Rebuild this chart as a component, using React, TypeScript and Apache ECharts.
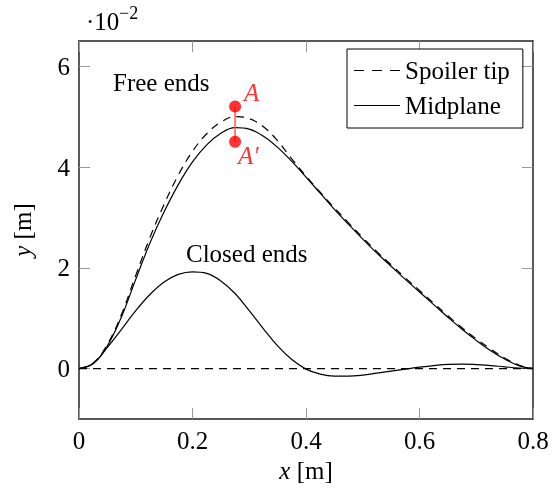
import React, { useEffect, useRef } from "react";
import * as echarts from "echarts";

const xs = [0, 0.025, 0.05, 0.075, 0.1, 0.125, 0.15, 0.175, 0.2, 0.225, 0.25, 0.275, 0.3, 0.325, 0.35, 0.375, 0.4, 0.425, 0.45, 0.475, 0.5, 0.525, 0.55, 0.575, 0.6, 0.625, 0.65, 0.675, 0.7, 0.725, 0.75, 0.775, 0.8];
const freeMid = [0, 0.1, 0.45, 1.03, 1.77, 2.49, 3.11, 3.65, 4.1, 4.44, 4.67, 4.78, 4.75, 4.61, 4.39, 4.11, 3.8, 3.48, 3.16, 2.86, 2.57, 2.29, 2.03, 1.77, 1.52, 1.27, 1.02, 0.78, 0.56, 0.36, 0.19, 0.06, 0];
const freeTip = [0, 0.11, 0.48, 1.08, 1.85, 2.6, 3.26, 3.84, 4.31, 4.66, 4.89, 5.0, 4.96, 4.8, 4.52, 4.16, 3.82, 3.5, 3.19, 2.89, 2.6, 2.32, 2.06, 1.8, 1.55, 1.3, 1.05, 0.81, 0.59, 0.39, 0.21, 0.07, 0];
const closedMid = [0, 0.1, 0.42, 0.78, 1.15, 1.47, 1.72, 1.87, 1.92, 1.89, 1.74, 1.49, 1.15, 0.79, 0.45, 0.18, -0.01, -0.11, -0.15, -0.15, -0.13, -0.09, -0.05, -0.01, 0.03, 0.06, 0.085, 0.09, 0.08, 0.06, 0.035, 0.012, 0];
const closedTipX = [0, 0.8];
const closedTip = [0, 0];
const pointA = [0.275, 5.2];
const pointA2 = [0.275, 4.5];
const xTicks = [0, 0.2, 0.4, 0.6, 0.8];
const yTicks = [0, 2, 4, 6];

const FONT = "Liberation Serif";

const pair = (x: number[], y: number[]) => x.map((v, i) => [v, y[i]]);

const mkTick = (vals: number[]) => ({ show: true, inside: true, length: 11, customValues: vals.slice(), lineStyle: { color: "#999", width: 1 } });
const mkLine = () => ({ show: true, onZero: false, lineStyle: { color: "#222", width: 1.5 } });
const mkName = () => ({
  fontFamily: FONT, fontSize: 25, color: "#000",
  rich: { i: { fontFamily: FONT, fontSize: 25, fontStyle: "italic", color: "#000" } },
});

const dashIcon = "path://M0,0h10v1.2h-10z M18,0h10v1.2h-10z M36,0h10v1.2h-10z";
const solidIcon = "path://M0,0h46v1.2h-46z";

export default function App() {
  const ref = useRef<HTMLDivElement>(null);
  useEffect(() => {
    if (!ref.current) return;
    const chart = echarts.init(ref.current, undefined, { renderer: "svg" });
    const lineBase = () => ({ type: "line", smooth: 0.4, symbol: "none", showSymbol: false, silent: true, itemStyle: { color: "#000" } });
    chart.setOption({
      animation: false,
      grid: { left: 79, right: 21, top: 41, bottom: 72 },
      xAxis: [
        {
          type: "value", min: 0, max: 0.8, position: "bottom",
          axisLine: mkLine(), splitLine: { show: false },
          axisTick: mkTick(xTicks),
          axisLabel: { fontFamily: FONT, fontSize: 25, color: "#000", margin: 9, customValues: xTicks.slice(), formatter: (v: number) => String(v) },
          name: "{i|x} [m]", nameLocation: "middle", nameGap: 36,
          nameTextStyle: mkName(),
        },
        {
          type: "value", min: 0, max: 0.8, position: "top",
          axisLine: mkLine(), splitLine: { show: false },
          axisTick: mkTick(xTicks),
          axisLabel: { show: false },
        },
      ],
      yAxis: [
        {
          type: "value", min: -1, max: 6.5, position: "left",
          axisLine: mkLine(), splitLine: { show: false },
          axisTick: mkTick(yTicks),
          axisLabel: { fontFamily: FONT, fontSize: 25, color: "#000", margin: 9, customValues: yTicks.slice(), formatter: (v: number) => String(v) },
          name: "{i|y} [m]", nameLocation: "middle", nameGap: 44, nameRotate: 90,
          nameTextStyle: mkName(),
        },
        {
          type: "value", min: -1, max: 6.5, position: "right",
          axisLine: mkLine(), splitLine: { show: false },
          axisTick: mkTick(yTicks),
          axisLabel: { show: false },
        },
      ],
      legend: {
        data: [
          { name: "Spoiler tip", icon: dashIcon },
          { name: "Midplane", icon: solidIcon },
        ],
        orient: "vertical", left: 347, top: 49,
        padding: [9, 13, 10, 7],
        itemWidth: 46, itemHeight: 14, itemGap: 10,
        itemStyle: { color: "#000", borderWidth: 0 },
        lineStyle: { opacity: 0 },
        backgroundColor: "#fff", borderColor: "#000", borderWidth: 1, borderRadius: 0,
        textStyle: { fontFamily: FONT, fontSize: 25, color: "#000", lineHeight: 20 },
        selectedMode: false,
      },
      graphic: [
        { type: "text", left: 113, top: 70, style: { text: "Free ends", fontFamily: FONT, fontSize: 25, fill: "#000" } },
        { type: "text", left: 186, top: 241, style: { text: "Closed ends", fontFamily: FONT, fontSize: 25, fill: "#000" } },
        { type: "text", left: 86, top: 9, style: { text: "·10", fontFamily: FONT, fontSize: 25, fill: "#000" } },
        { type: "text", left: 119, top: 4, style: { text: "−2", fontFamily: FONT, fontSize: 18, fill: "#000" } },
      ],
      series: [
        { ...lineBase(), name: "Spoiler tip", data: pair(xs, freeTip), lineStyle: { color: "#000", width: 1.2, type: [8, 6] } },
        { ...lineBase(), name: "Midplane", data: pair(xs, freeMid), lineStyle: { color: "#000", width: 1.2, type: "solid" } },
        { ...lineBase(), name: "Spoiler tip", smooth: false, data: pair(closedTipX, closedTip), lineStyle: { color: "#000", width: 1.2, type: [8, 6] } },
        { ...lineBase(), name: "Midplane", data: pair(xs, closedMid), lineStyle: { color: "#000", width: 1.2, type: "solid" } },
        { ...lineBase(), name: "AA", smooth: false, data: [pointA, pointA2], lineStyle: { color: "#f55", width: 1.5 }, z: 3 },
        {
          type: "scatter", name: "points", symbolSize: 12, itemStyle: { color: "#ff0000" }, z: 4, silent: true,
          data: [
            { value: pointA, label: { show: true, formatter: "A", position: "right", offset: [-2, -14] } },
            { value: pointA2, label: { show: true, formatter: "A′", position: "right", offset: [-8, 14] } },
          ],
          label: { fontFamily: FONT, fontSize: 25, fontStyle: "italic", color: "#ff0000" },
        },
      ],
    });
    return () => chart.dispose();
  }, []);
  return <div ref={ref} style={{ position: "fixed", left: 0, top: 0, width: 554, height: 491 }} />;
}
